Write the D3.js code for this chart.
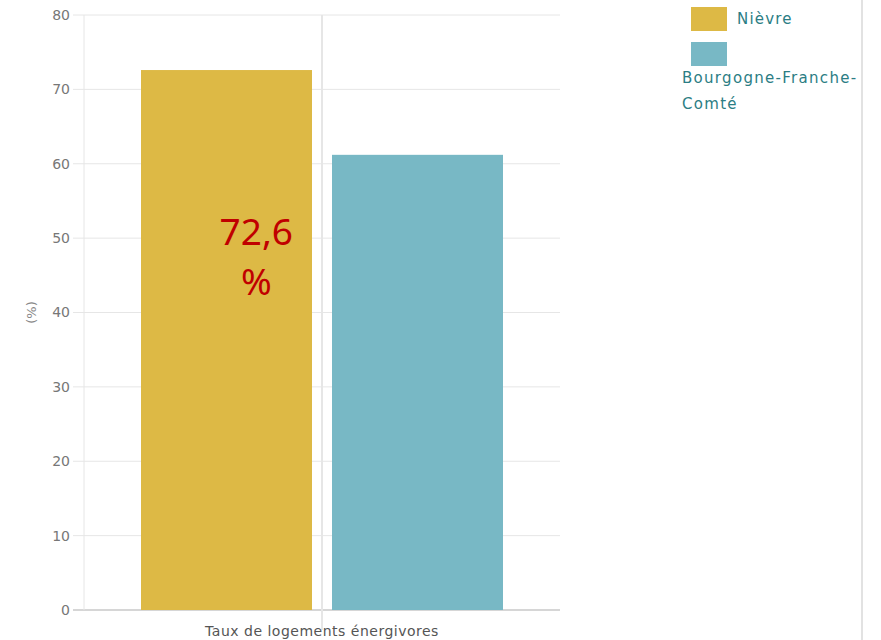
<!DOCTYPE html>
<html>
<head>
<meta charset="utf-8">
<script src="https://cdn.jsdelivr.net/npm/d3@7"></script>
<style>
  body { margin: 0; background: #fff; }
  svg { display: block; font-family: "DejaVu Sans", sans-serif; }
</style>
</head>
<body>
<svg id="chart" width="881" height="640"></svg>
<script>
const categories = ["Taux de logements énergivores"];
const seriesNames = ["Nièvre", "Bourgogne-Franche-Comté"];
const seriesValues = [72.6, 61.2];
const seriesColors = ["#ddb945", "#78b8c5"];
const yTicks = [0, 10, 20, 30, 40, 50, 60, 70, 80];
const annotation = ["72,6", "%"];

const margin = {top: 15, right: 321, bottom: 30, left: 84},
  width = 881 - margin.left - margin.right,
  height = 640 - margin.top - margin.bottom;

const svg = d3.select("#chart")
  .append("g")
  .attr("transform", "translate(" + margin.left + "," + margin.top + ")");

const y = d3.scaleLinear().domain([0, 80]).range([height, 0]);
const x0 = d3.scaleBand().domain(categories).range([0, width]);
const x1 = d3.scaleBand().domain(seriesNames)
  .range([57, x0.bandwidth() - 57]).paddingInner(20 / 191);

// horizontal gridlines
svg.append("g")
  .selectAll("line")
  .data(yTicks)
  .join("line")
  .attr("x1", -11).attr("x2", width)
  .attr("y1", d => y(d)).attr("y2", d => y(d))
  .attr("stroke", d => d === 0 ? "#c8c8c8" : "#e6e6e6")
  .attr("stroke-width", d => d === 0 ? 1.5 : 1);

// vertical gridlines
svg.append("line")
  .attr("x1", 0).attr("x2", 0).attr("y1", 0).attr("y2", height)
  .attr("stroke", "#e6e6e6");
svg.append("line")
  .attr("x1", x0(categories[0]) + x0.bandwidth() / 2)
  .attr("x2", x0(categories[0]) + x0.bandwidth() / 2)
  .attr("y1", 0).attr("y2", height + 20)
  .attr("stroke", "#e6e6e6").attr("stroke-width", 2);

// y tick labels
svg.append("g")
  .selectAll("text")
  .data(yTicks)
  .join("text")
  .attr("x", -14)
  .attr("y", d => y(d))
  .attr("dy", "0.35em")
  .attr("text-anchor", "end")
  .attr("font-size", "14px")
  .attr("fill", "#777")
  .text(d => d);

svg.append("text")
  .attr("transform", `translate(-48, ${height / 2}) rotate(-90)`)
  .attr("text-anchor", "middle")
  .attr("font-size", "13px")
  .attr("fill", "#888")
  .text("(%)");

// bars
svg.selectAll(".bar")
  .data(seriesValues)
  .join("rect")
  .attr("class", "bar")
  .attr("x", (d, i) => x0(categories[0]) + x1(seriesNames[i]))
  .attr("y", d => y(d))
  .attr("width", x1.bandwidth())
  .attr("height", d => y(0) - y(d))
  .attr("fill", (d, i) => seriesColors[i]);

// x label
svg.append("text")
  .attr("x", x0(categories[0]) + x0.bandwidth() / 2)
  .attr("y", height + 26)
  .attr("text-anchor", "middle")
  .attr("font-size", "14px")
  .attr("letter-spacing", "0.5px")
  .attr("fill", "#555")
  .text(categories[0]);

// annotation
const ax = x0(categories[0]) + x1(seriesNames[0]) + x1.bandwidth() * 0.68 - 1;
svg.append("g")
  .selectAll("text")
  .data(annotation)
  .join("text")
  .attr("x", ax)
  .attr("y", (d, i) => y(50) + 7 + i * 50)
  .attr("text-anchor", "middle")
  .attr("font-family", "'Noto Sans', sans-serif")
  .attr("font-size", "37px")
  .attr("fill", "#c00000")
  .text(d => d);

// right border line
d3.select("#chart").append("line")
  .attr("x1", 862).attr("x2", 862).attr("y1", 0).attr("y2", 640)
  .attr("stroke", "#e2e2e2").attr("stroke-width", 2);

// legend
const legend = d3.select("#chart").append("g");
legend.selectAll("rect")
  .data(seriesNames)
  .join("rect")
  .attr("x", 691)
  .attr("y", (d, i) => 7 + i * 35)
  .attr("width", 36).attr("height", 24)
  .attr("fill", (d, i) => seriesColors[i]);
legend.append("text")
  .attr("x", 737).attr("y", 24)
  .attr("font-size", "15px").attr("letter-spacing", "1.2px").attr("fill", "#2b7d84")
  .text(seriesNames[0]);
legend.append("text")
  .attr("font-size", "15px").attr("letter-spacing", "1.3px").attr("fill", "#2b7d84")
  .selectAll("tspan")
  .data(["Bourgogne-Franche-", "Comté"])
  .join("tspan")
  .attr("x", 682)
  .attr("y", (d, i) => 83 + i * 26)
  .text(d => d);
</script>
</body>
</html>
